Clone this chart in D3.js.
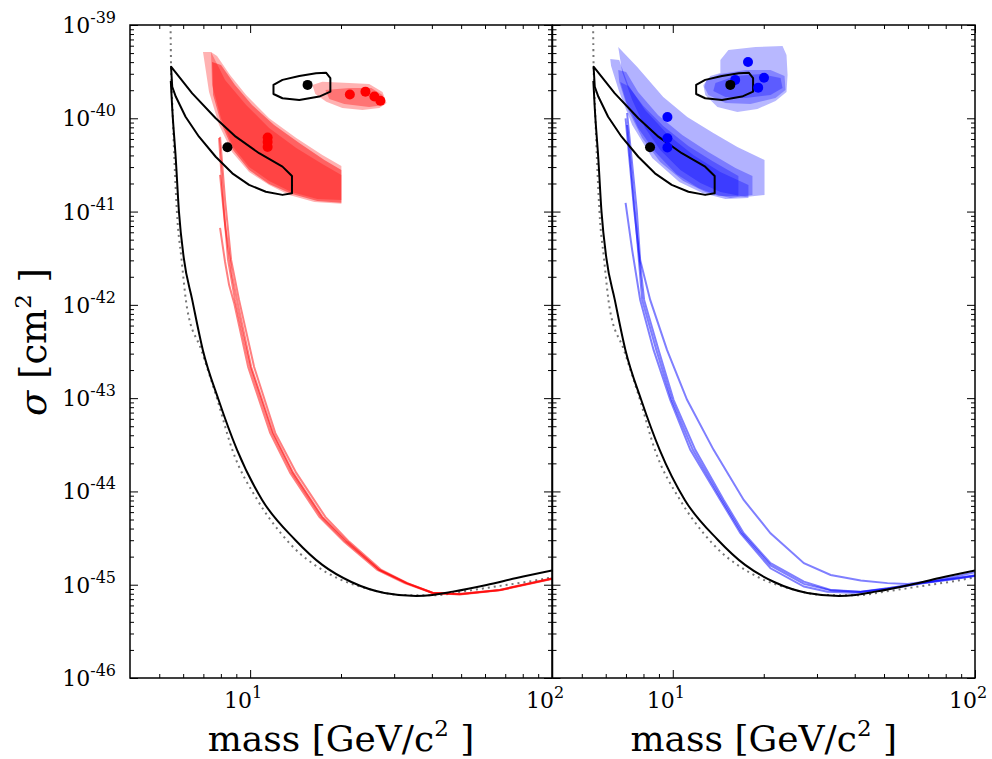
<!DOCTYPE html>
<html>
<head>
<meta charset="utf-8">
<script src="https://cdn.jsdelivr.net/npm/d3@7"></script>
<style>
  body { margin: 0; background: #fff; }
  text { font-family: "DejaVu Serif", serif; fill: #000; }
</style>
</head>
<body>
<div id="chart"></div>
<script>
// ---- data (mass in GeV/c^2, cross section in cm^2) ----

// tick values
var massTicks = [10, 100];
var massTickLabels = ["1", "2"];
var massMinorTicks = [5, 6, 7, 8, 9, 20, 30, 40, 50, 60, 70, 80, 90];
var sigmaTicks = [1e-46, 1e-45, 1e-44, 1e-43, 1e-42, 1e-41, 1e-40, 1e-39];
var sigmaTickLabels = ["-46", "-45", "-44", "-43", "-42", "-41", "-40", "-39"];

// black exclusion limit (solid)
var exclusionLimit = [
  [5.46, 2.51e-40], [5.52, 1.28e-40], [5.67, 3.73e-41], [5.81, 1.0e-41], [6.03, 3.16e-42],
  [6.43, 1.13e-42], [6.97, 3.29e-43], [7.86, 9.6e-44], [9.05, 2.79e-44], [10.96, 8.1e-45],
  [14.11, 3.02e-45], [17.35, 1.63e-45], [21.65, 1.07e-45], [27.87, 8.17e-46], [35.5, 7.59e-46],
  [40.2, 7.78e-46], [46.9, 8.43e-46], [60.7, 9.95e-46], [76.3, 1.18e-45], [100, 1.42e-45]
];

// grey dotted limit
var projectedLimit = [
  [5.45, 1e-39], [5.47, 3.73e-40], [5.53, 1.29e-40], [5.61, 3.75e-41], [5.72, 1.0e-41],
  [5.92, 3.17e-42], [6.18, 9.27e-43], [6.89, 3.29e-43], [7.79, 9.6e-44], [8.73, 2.79e-44],
  [10.57, 8.1e-45], [12.65, 3.56e-45], [14.55, 2.19e-45], [16.19, 1.67e-45], [19.76, 1.15e-45],
  [24.3, 9.13e-46], [31.3, 7.78e-46], [40.2, 7.69e-46], [52.2, 8.59e-46], [67.1, 9.71e-46],
  [86.5, 1.10e-45], [100, 1.20e-45]
];

// black closed contours
var contourLow = [
  [5.47, 3.57e-40], [6.43, 1.85e-40], [7.69, 1.0e-40], [8.96, 6.35e-41], [10.71, 4.22e-41],
  [12.8, 3.03e-41], [13.76, 2.41e-41], [13.76, 1.57e-41], [12.8, 1.51e-41], [11.27, 1.63e-41],
  [9.92, 1.93e-41], [8.73, 2.57e-41], [7.69, 3.87e-41], [6.77, 6.35e-41], [6.11, 1.04e-40],
  [5.67, 1.71e-40], [5.52, 2.18e-40]
];
var contourHigh = [
  [11.95, 2.28e-40], [12.8, 2.58e-40], [14.55, 2.84e-40], [16.53, 3.04e-40], [17.84, 3.08e-40],
  [18.44, 2.69e-40], [18.44, 1.93e-40], [16.95, 1.71e-40], [14.55, 1.57e-40], [12.8, 1.64e-40],
  [11.95, 1.82e-40]
];
var blackPoints = [[8.41, 4.89e-41], [15.5, 2.28e-40]];

// red (left panel)
var redBandA = [
  [6.98, 5.14e-40], [7.42, 5.14e-40], [8.26, 2.58e-40], [9.70, 1.39e-40], [11.56, 7.87e-41],
  [14.22, 4.81e-41], [17.35, 3.24e-41], [20.06, 2.47e-41], [20.06, 1.21e-41], [16.32, 1.27e-41],
  [13.48, 1.51e-41], [11.56, 1.93e-41], [9.92, 2.65e-41], [8.71, 4.35e-41], [7.89, 8.47e-41],
  [7.31, 1.91e-40]
];
var redBandB = [
  [7.42, 5.14e-40], [7.77, 4.66e-40], [8.58, 2.91e-40], [9.70, 1.78e-40], [11.56, 1.0e-40],
  [14.22, 6.15e-41], [17.35, 4.05e-41], [20.06, 3.08e-41], [20.06, 1.33e-41], [16.70, 1.36e-41],
  [13.69, 1.62e-41], [11.56, 2.13e-41], [9.92, 3.01e-41], [8.78, 4.92e-41], [8.01, 1.0e-40],
  [7.48, 2.28e-40]
];
var redBandC = [
  [7.48, 4.01e-40], [8.01, 3.73e-40], [8.91, 2.28e-40], [10.15, 1.39e-40], [12.01, 8.47e-41],
  [14.55, 5.43e-41], [17.62, 3.57e-41], [20.06, 2.79e-41], [20.06, 1.24e-41], [16.70, 1.30e-41],
  [13.69, 1.55e-41], [11.56, 1.98e-41], [9.92, 2.79e-41], [8.78, 4.57e-41], [8.01, 8.9e-41],
  [7.54, 1.78e-40]
];
var redBlobA = [
  [16.07, 2.28e-40], [17.35, 2.47e-40], [21.3, 2.39e-40], [24.8, 2.33e-40], [27.45, 1.91e-40],
  [28.3, 1.46e-40], [26.8, 1.29e-40], [23.56, 1.23e-40], [20.2, 1.29e-40], [17.88, 1.50e-40],
  [16.44, 1.82e-40]
];
var redBlobB = [
  [17.75, 2.01e-40], [21.3, 2.11e-40], [25.2, 2.11e-40], [27.45, 1.78e-40], [27.87, 1.39e-40],
  [24.8, 1.32e-40], [20.5, 1.42e-40], [18.30, 1.61e-40]
];
var redLineA = [
  [7.95, 6.31e-41], [8.26, 1.33e-41], [8.65, 3.03e-42], [9.19, 1.13e-42], [10.31, 2.16e-43],
  [12.11, 4.24e-44], [14.22, 1.58e-44], [17.75, 5.33e-45], [21.3, 2.88e-45], [27.2, 1.44e-45],
  [33.2, 1.04e-45], [40.2, 8.22e-46], [49.5, 7.96e-46], [67.1, 8.79e-46], [100, 1.17e-45]
];
var redLineB = [
  [7.95, 2.47e-41], [8.26, 7.18e-42], [8.71, 2.09e-42], [9.05, 1.13e-42], [10.08, 2.16e-43],
  [11.92, 4.24e-44], [13.9, 1.58e-44], [17.35, 5.33e-45], [21.0, 2.88e-45], [26.8, 1.44e-45],
  [33.0, 1.04e-45], [40.2, 8.15e-46], [49.5, 7.86e-46], [67.1, 8.7e-46], [100, 1.15e-45]
];
var redLineC = [
  [7.95, 6.67e-42], [8.26, 2.88e-42], [8.52, 1.63e-42], [8.85, 1.05e-42], [9.85, 2.16e-43],
  [11.65, 4.24e-44], [13.58, 1.58e-44], [16.96, 5.33e-45], [20.5, 2.88e-45], [26.4, 1.44e-45],
  [32.5, 1.04e-45], [40.2, 8.15e-46], [49.5, 7.9e-46], [67.1, 8.75e-46], [100, 1.16e-45]
];
var redLineD = [
  [7.89, 6.15e-41], [8.14, 1.33e-41], [8.45, 3.03e-42], [8.91, 1.13e-42], [10.0, 2.16e-43],
  [11.83, 4.24e-44], [13.79, 1.58e-44], [17.22, 5.33e-45], [20.8, 2.88e-45], [26.8, 1.44e-45],
  [33.0, 1.04e-45], [40.2, 8.22e-46], [49.5, 7.96e-46], [67.1, 8.79e-46], [100, 1.17e-45]
];
var redPoints = [
  [11.43, 6.23e-41], [11.43, 5.57e-41], [11.43, 4.92e-41],
  [21.4, 1.80e-40], [24.1, 1.93e-40], [25.8, 1.71e-40], [27.0, 1.54e-40]
];

// blue (right panel)
var blueBandA = [
  [6.60, 5.81e-40], [7.63, 3.55e-40], [9.30, 1.69e-40], [11.17, 1.03e-40], [13.62, 6.95e-41],
  [16.36, 4.92e-41], [20.12, 3.57e-41], [20.12, 1.51e-41], [17.40, 1.43e-41], [14.37, 1.62e-41],
  [12.34, 2.03e-41], [10.59, 2.79e-41], [9.09, 4.57e-41], [8.10, 7.87e-41], [7.34, 1.57e-40],
  [6.80, 3.13e-40]
];
var blueBandB = [
  [6.21, 4.32e-40], [6.65, 4.22e-40], [7.12, 2.28e-40], [8.10, 1.23e-40], [9.66, 6.62e-41],
  [11.69, 4.05e-41], [14.37, 2.65e-41], [17.80, 1.93e-41], [17.80, 1.40e-41], [14.93, 1.36e-41],
  [12.53, 1.58e-41], [10.51, 2.08e-41], [8.55, 3.76e-41], [7.34, 8.47e-41], [6.65, 1.91e-40],
  [6.25, 3.64e-40]
];
var blueBandC = [
  [6.60, 3.30e-40], [7.01, 3.13e-40], [7.68, 1.91e-40], [8.95, 1.08e-40], [10.75, 6.62e-41],
  [13.11, 4.35e-41], [16.12, 2.93e-41], [18.35, 2.41e-41], [18.35, 1.51e-41], [15.51, 1.40e-41],
  [12.81, 1.62e-41], [10.83, 2.13e-41], [9.09, 3.40e-41], [7.92, 6.15e-41], [7.12, 1.23e-40],
  [6.65, 2.45e-40]
];
var blueBandD = [
  [6.70, 2.45e-40], [7.12, 2.22e-40], [7.98, 1.36e-40], [9.30, 8.26e-41], [11.26, 5.04e-41],
  [13.52, 3.48e-41], [16.49, 2.41e-41], [16.49, 1.47e-41], [14.16, 1.47e-41], [12.15, 1.79e-41],
  [10.27, 2.53e-41], [8.75, 4.35e-41], [7.68, 7.87e-41], [7.01, 1.50e-40]
];
var blueBlobA = [
  [14.37, 4.22e-40], [15.28, 5.40e-40], [18.77, 5.81e-40], [23.08, 5.95e-40], [23.79, 4.77e-40],
  [23.98, 2.91e-40], [23.79, 1.91e-40], [21.88, 1.53e-40], [19.06, 1.26e-40], [16.36, 1.17e-40],
  [14.05, 1.32e-40], [12.81, 1.78e-40], [12.62, 2.28e-40], [13.31, 2.84e-40], [14.37, 3.06e-40]
];
var blueBlobB = [
  [12.91, 2.58e-40], [14.37, 2.99e-40], [17.40, 3.30e-40], [21.06, 3.30e-40], [23.44, 2.84e-40],
  [23.61, 2.01e-40], [21.88, 1.65e-40], [18.07, 1.42e-40], [14.93, 1.46e-40], [13.11, 1.78e-40],
  [12.72, 2.17e-40]
];
var blueBlobC = [
  [13.84, 2.39e-40], [16.12, 2.84e-40], [19.51, 2.99e-40], [22.73, 2.70e-40], [23.08, 2.11e-40],
  [21.06, 1.78e-40], [17.40, 1.65e-40], [14.93, 1.69e-40], [13.62, 1.96e-40]
];
var blueLineA = [
  [7.06, 1.14e-40], [7.6, 1.04e-41], [7.80, 3.03e-42], [8.42, 1.13e-42], [9.57, 3.29e-43],
  [11.15, 9.6e-44], [13.65, 2.79e-44], [17.17, 8.1e-45], [21.06, 3.56e-45], [27.16, 1.70e-45],
  [33.3, 1.27e-45], [41.87, 1.11e-45], [51.34, 1.04e-45], [59.8, 1.02e-45], [69.7, 1.08e-45],
  [85.4, 1.22e-45], [100, 1.36e-45]
];
var blueLineB = [
  [6.98, 1.0e-40], [7.45, 1.04e-41], [8.04, 1.13e-42], [8.97, 3.29e-43], [10.06, 9.6e-44],
  [11.87, 2.79e-44], [14.74, 8.1e-45], [17.17, 3.56e-45], [21.06, 1.70e-45], [27.16, 1.08e-45],
  [33.3, 8.8e-46], [41.87, 8.43e-46], [51.34, 9.18e-46], [66.2, 1.04e-45], [85.4, 1.17e-45],
  [100, 1.26e-45]
];
var blueLineC = [
  [6.98, 1.24e-41], [7.34, 3.87e-42], [7.80, 1.13e-42], [8.64, 3.29e-43], [9.81, 9.6e-44],
  [11.43, 2.79e-44], [14.37, 8.1e-45], [16.74, 3.56e-45], [21.06, 1.50e-45], [27.16, 9.55e-46],
  [32.47, 8.43e-46], [39.78, 8.22e-46], [51.34, 9.02e-46], [66.2, 1.03e-45], [85.4, 1.15e-45],
  [100, 1.24e-45]
];
var blueLineD = [
  [7.06, 8.47e-41], [7.51, 9.2e-42], [7.92, 1.13e-42], [8.82, 3.29e-43], [9.92, 9.6e-44],
  [11.65, 2.79e-44], [14.54, 8.1e-45], [16.94, 3.56e-45], [21.06, 1.61e-45], [27.16, 1.02e-45],
  [33.3, 8.7e-46], [41.87, 8.35e-46], [51.34, 9.1e-46], [66.2, 1.035e-45], [85.4, 1.16e-45],
  [100, 1.25e-45]
];
var bluePoints = [
  [9.60, 1.03e-40], [9.60, 6.11e-41], [9.60, 4.86e-41],
  [17.74, 4.01e-40], [16.09, 2.58e-40], [20.04, 2.72e-40], [19.17, 2.13e-40]
];

// ---- layout ----
var w = 992, h = 759;
var plotTop = 25, plotBottom = 678;

var svg = d3.select("#chart").append("svg")
  .attr("width", w)
  .attr("height", h);

var y = d3.scaleLog().domain([1e-46, 1e-39]).range([plotBottom, plotTop]);

var panels = [
  { x0: 130, x1: 552, color: "#ff0000",
    bands: [redBandA, redBandB, redBandC], bandOpacity: [0.3, 0.3, 0.45],
    blobs: [redBlobA, redBlobB], blobOpacity: [0.3, 0.35],
    lines: [redLineA, redLineB, redLineC, redLineD], points: redPoints, yLabels: true },
  { x0: 552.5, x1: 975, color: "#0000ff",
    bands: [blueBandA, blueBandB, blueBandC, blueBandD], bandOpacity: [0.3, 0.3, 0.3, 0.3],
    blobs: [blueBlobA, blueBlobB, blueBlobC], blobOpacity: [0.28, 0.28, 0.3],
    lines: [blueLineA, blueLineB, blueLineC, blueLineD], points: bluePoints, yLabels: false }
];

panels.forEach(function (p, i) {
  var x = d3.scaleLog().domain([4, 100]).range([p.x0, p.x1]);
  var line = d3.line().x(d => x(d[0])).y(d => y(d[1]));
  var smooth = d3.line().x(d => x(d[0])).y(d => y(d[1])).curve(d3.curveMonotoneX);

  svg.append("clipPath").attr("id", "clip" + i)
    .append("rect")
    .attr("x", p.x0).attr("y", plotTop)
    .attr("width", p.x1 - p.x0).attr("height", plotBottom - plotTop);

  var g = svg.append("g").attr("clip-path", "url(#clip" + i + ")");

  // filled regions
  p.bands.forEach(function (b, k) {
    g.append("path").attr("d", line(b) + "Z")
      .attr("fill", p.color).attr("fill-opacity", p.bandOpacity[k]).attr("stroke", "none");
  });
  p.blobs.forEach(function (b, k) {
    g.append("path").attr("d", line(b) + "Z")
      .attr("fill", p.color).attr("fill-opacity", p.blobOpacity[k]).attr("stroke", "none");
  });

  // dotted limit
  g.append("path").attr("d", smooth(projectedLimit))
    .attr("fill", "none").attr("stroke", "#777")
    .attr("stroke-width", 2).attr("stroke-dasharray", "2,4");

  // coloured limit curves
  p.lines.forEach(function (l) {
    g.append("path").attr("d", line(l))
      .attr("fill", "none").attr("stroke", p.color)
      .attr("stroke-opacity", 0.5).attr("stroke-width", 2);
  });

  // black limit and contours
  g.append("path").attr("d", smooth(exclusionLimit))
    .attr("fill", "none").attr("stroke", "#000").attr("stroke-width", 2);
  [contourLow, contourHigh].forEach(function (c) {
    g.append("path").attr("d", line(c) + "Z")
      .attr("fill", "none").attr("stroke", "#000")
      .attr("stroke-width", 2).attr("stroke-linejoin", "round");
  });

  // points
  g.selectAll(".pt").data(p.points).enter().append("circle")
    .attr("cx", d => x(d[0])).attr("cy", d => y(d[1])).attr("r", 5)
    .attr("fill", p.color);
  g.selectAll(".bpt").data(blackPoints).enter().append("circle")
    .attr("cx", d => x(d[0])).attr("cy", d => y(d[1])).attr("r", 5)
    .attr("fill", "#000");

  // inward ticks on all four sides
  function clean(sel) { sel.select(".domain").remove(); }
  svg.append("g").attr("transform", "translate(0," + plotBottom + ")")
    .call(d3.axisBottom(x).tickValues(massTicks).tickSize(-8).tickFormat("")).call(clean);
  svg.append("g").attr("transform", "translate(0," + plotBottom + ")")
    .call(d3.axisBottom(x).tickValues(massMinorTicks).tickSize(-4).tickFormat("")).call(clean);
  svg.append("g").attr("transform", "translate(0," + plotTop + ")")
    .call(d3.axisTop(x).tickValues(massTicks).tickSize(-8).tickFormat("")).call(clean);
  svg.append("g").attr("transform", "translate(0," + plotTop + ")")
    .call(d3.axisTop(x).tickValues(massMinorTicks).tickSize(-4).tickFormat("")).call(clean);

  var sigmaMinor = [];
  sigmaTicks.slice(0, -1).forEach(function (t) {
    for (var m = 2; m < 10; m++) sigmaMinor.push(t * m);
  });
  [[p.x0, d3.axisLeft], [p.x1, d3.axisRight]].forEach(function (s) {
    svg.append("g").attr("transform", "translate(" + s[0] + ",0)")
      .call(s[1](y).tickValues(sigmaTicks).tickSize(-8).tickFormat("")).call(clean);
    svg.append("g").attr("transform", "translate(" + s[0] + ",0)")
      .call(s[1](y).tickValues(sigmaMinor).tickSize(-4).tickFormat("")).call(clean);
  });

  // frame
  svg.append("rect")
    .attr("x", p.x0).attr("y", plotTop)
    .attr("width", p.x1 - p.x0).attr("height", plotBottom - plotTop)
    .attr("fill", "none").attr("stroke", "#000").attr("stroke-width", 1.5);

  // x tick labels
  massTicks.forEach(function (t, k) {
    var txt = svg.append("text")
      .attr("x", x(t) - 7).attr("y", 708)
      .attr("text-anchor", "middle").attr("font-size", 22);
    txt.append("tspan").text("10");
    txt.append("tspan").attr("dy", -10).attr("font-size", 16).text(massTickLabels[k]);
  });

  // y tick labels
  if (p.yLabels) {
    sigmaTicks.forEach(function (t, k) {
      var txt = svg.append("text")
        .attr("x", 116).attr("y", y(t) + 8)
        .attr("text-anchor", "end").attr("font-size", 22);
      txt.append("tspan").text("10");
      txt.append("tspan").attr("dy", -10).attr("font-size", 16).text(sigmaTickLabels[k]);
    });
  }

  // x axis title
  var xt = svg.append("text")
    .attr("x", (p.x0 + p.x1) / 2).attr("y", 751)
    .attr("text-anchor", "middle").attr("font-size", 36);
  xt.append("tspan").text("mass [GeV/c");
  xt.append("tspan").attr("dy", -15).attr("font-size", 23).text("2");
  xt.append("tspan").attr("dy", 15).text(" ]");
});

// y axis title
var yt = svg.append("text")
  .attr("transform", "translate(46,342) rotate(-90)")
  .attr("text-anchor", "middle").attr("font-size", 37);
yt.append("tspan").attr("font-style", "italic").text("σ");
yt.append("tspan").text(" [cm");
yt.append("tspan").attr("dy", -15).attr("font-size", 23).text("2");
yt.append("tspan").attr("dy", 15).text(" ]");
</script>
</body>
</html>
